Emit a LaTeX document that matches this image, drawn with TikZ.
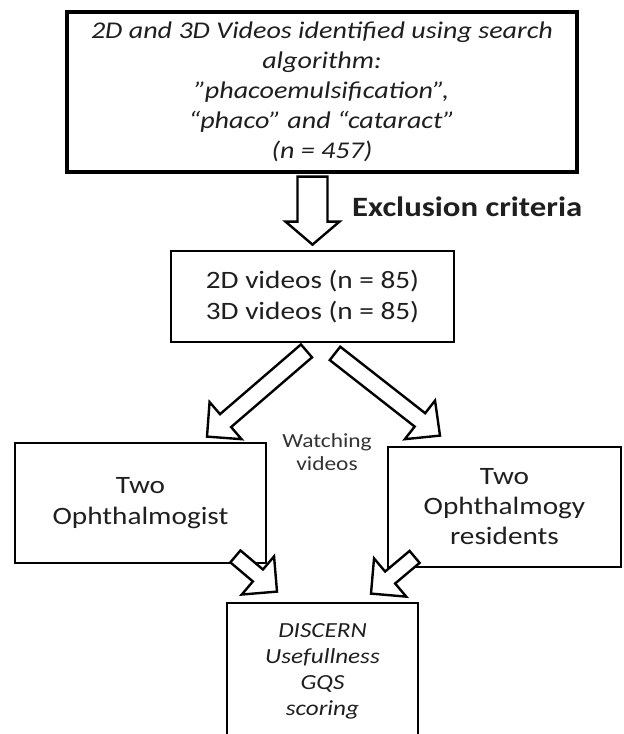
\documentclass[tikz,border=0pt]{standalone}
\usepackage{fontspec}
\setmainfont{Carlito}[FakeStretch=1.17]
\usetikzlibrary{calc}
\tikzset{
  box/.style={draw=black, line width=2.8pt, rectangle, align=center, inner sep=0pt, text=black!88},
  blk/.style={draw=black, line width=2.4pt, fill=white, line join=miter},
}
% #1 tail, #2 tip, #3 half shaft width, #4 half head width, #5 head length
\newcommand\blkarrow[5]{%
  \coordinate (hb) at ($(#2)!#5!(#1)$);
  \draw[blk] ($(#1)!#3!90:(#2)$) -- ($(hb)!#3!90:(#2)$) -- ($(hb)!#4!90:(#2)$) -- (#2)
    -- ($(hb)!#4!-90:(#2)$) -- ($(hb)!#3!-90:(#2)$) -- ($(#1)!#3!-90:(#2)$) -- cycle;
}
\begin{document}
\begin{tikzpicture}[x=1pt,y=-1pt]
\useasboundingbox (0,0) rectangle (624,734);
\fill[white] (0,0) rectangle (624,734);

\node[box, line width=3.6pt, minimum width=510pt, minimum height=160pt,
  font=\fontsize{24}{30}\selectfont\itshape] (top) at (322,92)
  {2D and 3D Videos identified using search\\algorithm:\\"phacoemulsification",\\“phaco” and “cataract”\\(n = 457)};

\node[box, minimum width=283pt, minimum height=91pt,
  font=\fontsize{25}{31}\selectfont] (mid) at (312.5,296.5)
  {2D videos (n = 85)\\3D videos (n = 85)};

\node[box, minimum width=251pt, minimum height=120pt,
  font=\fontsize{25}{31}\selectfont] (left) at (140.5,503)
  {Two\\Ophthalmogist};

\node[box, minimum width=233pt, minimum height=120pt,
  font=\fontsize{25}{30}\selectfont] (right) at (504.5,507)
  {Two\\Ophthalmogy\\residents};

\node[box, minimum width=191pt, minimum height=136pt,
  font=\fontsize{21.5}{26}\selectfont\itshape] (bot) at (322.5,671)
  {DISCERN\\Usefullness\\GQS\\scoring};

\node[anchor=base west, inner sep=0pt, text=black!88,
  font=\fontsize{28}{32}\selectfont\bfseries] (excl) at (352,216) {Exclusion criteria};

\node[align=center, inner sep=0pt, text=black!80,
  font=\fontsize{20}{23}\selectfont] (watch) at (327,452) {Watching\\videos};

% connectors
\coordinate (d1) at ($(mid.north)+(0,-73)$);
\coordinate (d2) at ($(mid.north)+(0,-5)$);
\blkarrow{d1}{d2}{15pt}{27pt}{23pt}

\coordinate (l1) at ($(mid.south)+(-6,7.5)$);
\coordinate (l2) at ($(left.north)+(66.5,-5)$);
\blkarrow{l1}{l2}{8.5pt}{24.5pt}{24.5pt}

\coordinate (r1) at ($(mid.south)+(22.5,10)$);
\coordinate (r2) at ($(right.north)+(-64.5,-10)$);
\blkarrow{r1}{r2}{8.5pt}{24.5pt}{25.5pt}

\coordinate (s1) at ($(left.south east)+(-32,-8)$);
\coordinate (s2) at ($(bot.north)+(-45.5,-10)$);
\blkarrow{s1}{s2}{7.8pt}{25pt}{25pt}

\coordinate (t1) at ($(right.south west)+(28,-11.5)$);
\coordinate (t2) at ($(bot.north)+(48.5,-8)$);
\blkarrow{t1}{t2}{7.8pt}{25pt}{25pt}
\end{tikzpicture}
\end{document}
